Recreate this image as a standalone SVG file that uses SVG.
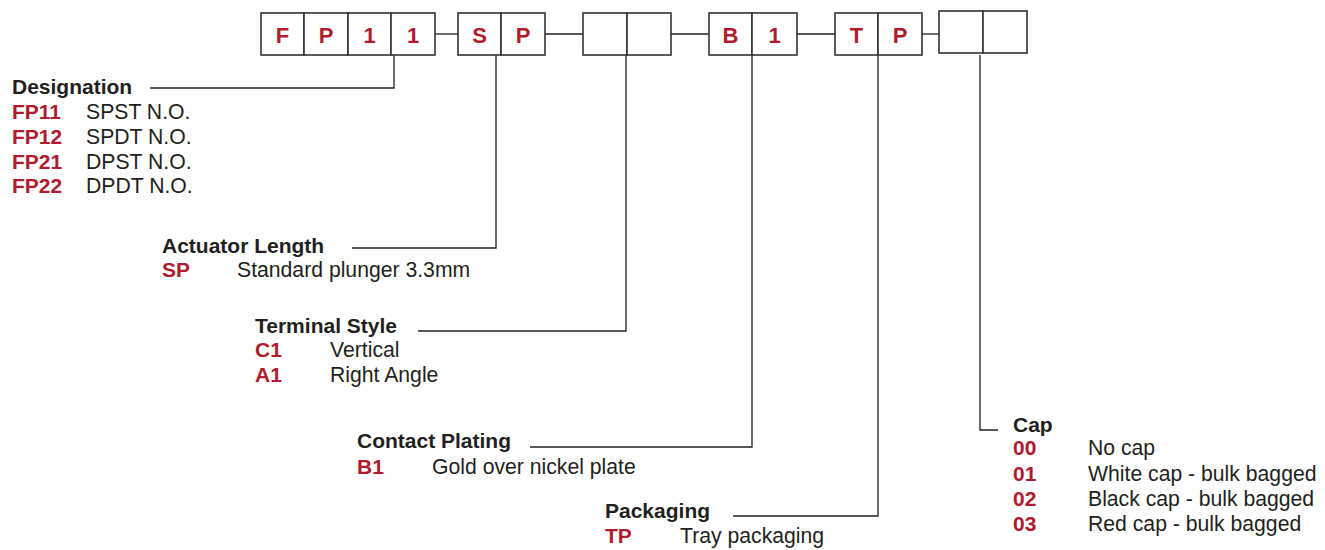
<svg xmlns="http://www.w3.org/2000/svg" width="1325" height="550" viewBox="0 0 1325 550">
<style>
.box{fill:#fff;stroke:#333;stroke-width:1.6}
.bl{font-family:"Liberation Sans",Arial,sans-serif;font-weight:bold;font-size:22px;fill:#b01c2e;text-anchor:middle}
.h{font-family:"Liberation Sans",Arial,sans-serif;font-weight:bold;font-size:21px;fill:#231f20}
.c{font-family:"Liberation Sans",Arial,sans-serif;font-weight:bold;font-size:21px;fill:#b01c2e}
.t{font-family:"Liberation Sans",Arial,sans-serif;font-size:21.2px;fill:#231f20}
.ln{fill:none;stroke:#231f20;stroke-width:1.3}
</style>
<rect width="1325" height="550" fill="#fff"/>
<g id="connectors">
<line class="ln" x1="435" y1="34" x2="458" y2="34"/>
<line class="ln" x1="545" y1="34" x2="583" y2="34"/>
<line class="ln" x1="671" y1="34" x2="709" y2="34"/>
<line class="ln" x1="797" y1="34" x2="835" y2="34"/>
<line class="ln" x1="922" y1="34" x2="939" y2="34"/>
<polyline class="ln" points="394,55 394,88 150,88"/>
<polyline class="ln" points="496,55 496,248 352,248"/>
<polyline class="ln" points="626,55 626,331 418,331"/>
<polyline class="ln" points="752,55 752,447 530,447"/>
<polyline class="ln" points="878,55 878,516 733,516"/>
<polyline class="ln" points="980,55 980,430 998,430"/>
</g>
<g id="code-FP11">
<rect class="box" x="261" y="13" width="43" height="42"/><text class="bl" x="282.5" y="42.5">F</text>
<rect class="box" x="304" y="13" width="44" height="42"/><text class="bl" x="326" y="42.5">P</text>
<rect class="box" x="348" y="13" width="43" height="42"/><text class="bl" x="369.5" y="42.5">1</text>
<rect class="box" x="391" y="13" width="44" height="42"/><text class="bl" x="413" y="42.5">1</text>
</g>
<g id="code-SP">
<rect class="box" x="458" y="13" width="43" height="42"/><text class="bl" x="479.5" y="42.5">S</text>
<rect class="box" x="501" y="13" width="44" height="42"/><text class="bl" x="523" y="42.5">P</text>
</g>
<g id="code-terminal">
<rect class="box" x="583" y="13" width="44" height="42"/>
<rect class="box" x="627" y="13" width="44" height="42"/>
</g>
<g id="code-B1">
<rect class="box" x="709" y="13" width="43" height="42"/><text class="bl" x="730.5" y="42.5">B</text>
<rect class="box" x="752" y="13" width="45" height="42"/><text class="bl" x="774.5" y="42.5">1</text>
</g>
<g id="code-TP">
<rect class="box" x="835" y="13" width="43" height="42"/><text class="bl" x="856.5" y="42.5">T</text>
<rect class="box" x="878" y="13" width="44" height="42"/><text class="bl" x="900" y="42.5">P</text>
</g>
<g id="code-cap">
<rect class="box" x="939" y="11" width="44" height="42"/>
<rect class="box" x="983" y="11" width="44" height="42"/>
</g>
<g id="designation">
<text class="h" x="12" y="94">Designation</text>
<text class="c" x="12" y="119">FP11</text><text class="t" x="86" y="119">SPST N.O.</text>
<text class="c" x="12" y="144">FP12</text><text class="t" x="86" y="144">SPDT N.O.</text>
<text class="c" x="12" y="169">FP21</text><text class="t" x="86" y="169">DPST N.O.</text>
<text class="c" x="12" y="193">FP22</text><text class="t" x="86" y="193">DPDT N.O.</text>
</g>
<g id="actuator">
<text class="h" x="162" y="253">Actuator Length</text>
<text class="c" x="162" y="277">SP</text><text class="t" x="237" y="277">Standard plunger 3.3mm</text>
</g>
<g id="terminal">
<text class="h" x="255" y="333">Terminal Style</text>
<text class="c" x="255" y="357">C1</text><text class="t" x="330" y="357">Vertical</text>
<text class="c" x="255" y="382">A1</text><text class="t" x="330" y="382">Right Angle</text>
</g>
<g id="contact">
<text class="h" x="357" y="448">Contact Plating</text>
<text class="c" x="357" y="474">B1</text><text class="t" x="432" y="474">Gold over nickel plate</text>
</g>
<g id="packaging">
<text class="h" x="605" y="518">Packaging</text>
<text class="c" x="605" y="543">TP</text><text class="t" x="680" y="543">Tray packaging</text>
</g>
<g id="cap">
<text class="h" x="1013" y="432">Cap</text>
<text class="c" x="1013" y="455">00</text><text class="t" x="1088" y="455">No cap</text>
<text class="c" x="1013" y="481">01</text><text class="t" x="1088" y="481">White cap - bulk bagged</text>
<text class="c" x="1013" y="506">02</text><text class="t" x="1088" y="506">Black cap - bulk bagged</text>
<text class="c" x="1013" y="531">03</text><text class="t" x="1088" y="531">Red cap - bulk bagged</text>
</g>
</svg>
